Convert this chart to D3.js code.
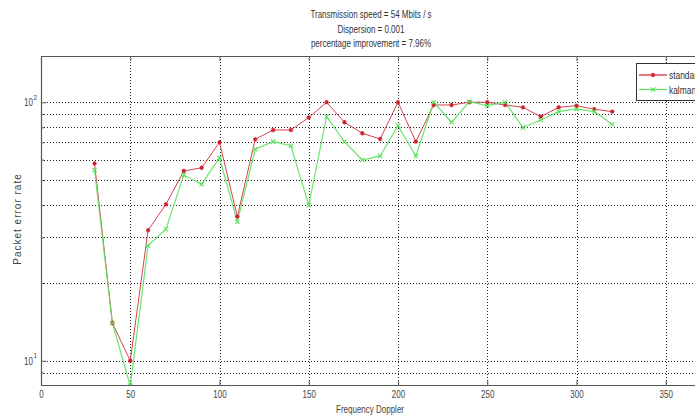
<!DOCTYPE html>
<html>
<head>
<meta charset="utf-8">
<script src="https://cdn.jsdelivr.net/npm/d3@7"></script>
<style>
  html, body { margin: 0; padding: 0; background: #fff; overflow: hidden; }
  svg { display: block; }
  text { font-family: 'Liberation Sans', Arial, sans-serif; fill: #3a3a3a; }
</style>
</head>
<body>
<div id="app"></div>
<script>
// chart data
const freq = [30, 40, 50, 60, 70, 80, 90, 100, 110, 120, 130, 140, 150, 160, 170,
  180, 190, 200, 210, 220, 230, 240, 250, 260, 270, 280, 290, 300, 310, 320];
const standard = [58, 14, 10, 32, 40.3, 54.2, 55.8, 70, 36.1, 71.9, 78.1, 78.1, 87.3, 100, 83.7,
  75.9, 72.1, 100, 70.4, 97.6, 97.6, 100, 100, 97.6, 95.6, 88, 95.6, 97, 94, 92];
const kalman = [54.7, 14, 8.0, 27.9, 32.3, 52.3, 48.2, 61, 34.5, 65.8, 70.4, 67.9, 40, 88, 70.4,
  59.8, 62, 81.2, 62, 100, 83.7, 100.5, 97, 100, 79.8, 85.4, 92, 94.2, 92, 82.2];
const xTicks = [0, 50, 100, 150, 200, 250, 300, 350, 400];
const yGrid = [9, 10, 20, 30, 40, 50, 60, 70, 80, 90, 100];
const yMajor = [10, 100];
const titleLines = ['Transmission speed = 54 Mbits / s', 'Dispersion = 0.001', 'percentage improvement = 7.96%'];
const seriesNames = ['standard', 'kalman'];

const width = 695;
const height = 418;
const mLeft = 41, mTop = 56, mBottom = 385, mRight = 755;
const narrowK = 0.8; // squeeze Arial-like text to look like the narrow face

const svg = d3
  .select('#app')
  .append('svg')
  .attr('width', width)
  .attr('height', height);

// narrow text placed at (tx, ty)
function ntext(g, tx, ty, str, size, anchor) {
  return g.append('text')
    .attr('transform', `translate(${tx},${ty}) scale(${narrowK},1)`)
    .attr('text-anchor', anchor || 'start')
    .attr('font-size', size)
    .text(str);
}

const x = d3.scaleLinear().domain([0, 400]).range([mLeft, mRight]);
const y = d3.scaleLog().domain([8.06, 151]).range([mBottom, mTop]);

svg.append('defs').append('clipPath').attr('id', 'plot-clip')
  .append('rect')
  .attr('x', mLeft).attr('y', mTop - 2)
  .attr('width', mRight - mLeft).attr('height', mBottom - mTop + 2);

// grid
const grid = svg.append('g').attr('stroke', '#222').attr('stroke-width', 1)
  .attr('stroke-dasharray', '1,2');
grid.selectAll('.vg')
  .data(xTicks.filter((d) => d > 0))
  .enter()
  .append('line')
  .attr('x1', (d) => Math.round(x(d)) + 0.5)
  .attr('x2', (d) => Math.round(x(d)) + 0.5)
  .attr('y1', mTop)
  .attr('y2', mBottom);
grid.selectAll('.hg')
  .data(yGrid)
  .enter()
  .append('line')
  .attr('x1', mLeft)
  .attr('x2', mRight)
  .attr('y1', (d) => Math.round(y(d)) + 0.5)
  .attr('y2', (d) => Math.round(y(d)) + 0.5);

// axes with inward ticks
const xAxis = d3.axisBottom(x).tickValues(xTicks).tickSize(-5).tickPadding(6).tickFormat(d3.format('d'));
const gx = svg.append('g').attr('transform', `translate(0,${mBottom})`).call(xAxis);
gx.select('.domain').remove();
gx.selectAll('line').attr('stroke', '#555');
gx.selectAll('text')
  .attr('font-size', 10)
  .attr('font-family', null)
  .attr('transform', `scale(${narrowK},1)`)
  .style('fill', '#444');

const gxTop = svg.append('g').attr('transform', `translate(0,${mTop})`)
  .call(d3.axisTop(x).tickValues(xTicks).tickSize(-5).tickFormat(''));
gxTop.select('.domain').remove();
gxTop.selectAll('line').attr('stroke', '#555');

const gy = svg.append('g').attr('transform', `translate(${mLeft},0)`)
  .call(d3.axisLeft(y).tickValues(yGrid).tickSize(0).tickFormat(''));
gy.select('.domain').remove();
gy.selectAll('.tick line')
  .attr('stroke', '#555')
  .attr('x2', (d) => (yMajor.includes(d) ? 5 : 3));

// y tick labels 10^1, 10^2
yMajor.forEach((v) => {
  const t = ntext(svg, 33, y(v) + 4, '10', 10, 'end').style('fill', '#444');
  svg.append('text')
    .attr('x', 33.5)
    .attr('y', y(v) - 2.5)
    .attr('font-size', 6.5)
    .style('fill', '#444')
    .text(Math.round(Math.log10(v)));
});

// frame
svg.append('path')
  .attr('d', `M${mRight},${mTop + 0.5}H${mLeft + 0.5}V${mBottom + 0.5}H${mRight}`)
  .attr('fill', 'none')
  .attr('stroke', '#555')
  .attr('stroke-width', 1.2);

// lines
const line = d3.line()
  .x((d) => x(d[0]))
  .y((d) => y(d[1]));

const plot = svg.append('g').attr('clip-path', 'url(#plot-clip)');
const colors = ['#cf2030', '#5ee05e'];
const series = [standard, kalman];

series.forEach((vals, i) => {
  const pts = freq.map((f, j) => [f, vals[j]]);
  plot.append('path')
    .datum(pts)
    .attr('fill', 'none')
    .attr('stroke', colors[i])
    .attr('stroke-width', i === 0 ? 1 : 1.2)
    .attr('stroke-opacity', i === 0 ? 0.85 : 0.9)
    .attr('d', line);
});

function marker(g, cx, cy, kind, color) {
  const s = 2.2;
  let d;
  if (kind === 0) {
    d = `M${cx - s},${cy}H${cx + s}M${cx},${cy - s}V${cy + s}` +
      `M${cx - s * 0.7},${cy - s * 0.7}L${cx + s * 0.7},${cy + s * 0.7}` +
      `M${cx - s * 0.7},${cy + s * 0.7}L${cx + s * 0.7},${cy - s * 0.7}`;
  } else {
    d = `M${cx - s},${cy - s}L${cx + s},${cy + s}M${cx - s},${cy + s}L${cx + s},${cy - s}`;
  }
  g.append('path').attr('d', d).attr('stroke', color).attr('stroke-width', 1.1).attr('fill', 'none');
}

series.forEach((vals, i) => {
  freq.forEach((f, j) => marker(plot, x(f), y(vals[j]), i, colors[i]));
});

// title
titleLines.forEach((str, i) => {
  ntext(svg, 371, 18 + i * 14.5, str, 10, 'middle').style('fill', '#333');
});

// axis labels
ntext(svg, 370, 413, 'Frequency Doppler', 10, 'middle').style('fill', '#444');

svg.append('text')
  .attr('transform', 'translate(21,219) rotate(-90)')
  .attr('text-anchor', 'middle')
  .attr('font-size', 10)
  .attr('letter-spacing', 1)
  .style('fill', '#444')
  .text('Packet error rate');

// legend
const lg = svg.append('g').attr('transform', 'translate(636,63)');
lg.append('rect')
  .attr('x', 0.5).attr('y', 0.5)
  .attr('width', 100).attr('height', 37)
  .attr('fill', '#fff')
  .attr('stroke', '#333')
  .attr('stroke-width', 1);
seriesNames.forEach((name, i) => {
  const ly = 12 + i * 14.5;
  lg.append('line')
    .attr('x1', 3).attr('x2', 31)
    .attr('y1', ly).attr('y2', ly)
    .attr('stroke', colors[i])
    .attr('stroke-width', 1.2);
  marker(lg, 17, ly, i, colors[i]);
  ntext(lg, 33, ly + 4, name, 10.5).style('fill', '#333');
});
</script>
</body>
</html>
